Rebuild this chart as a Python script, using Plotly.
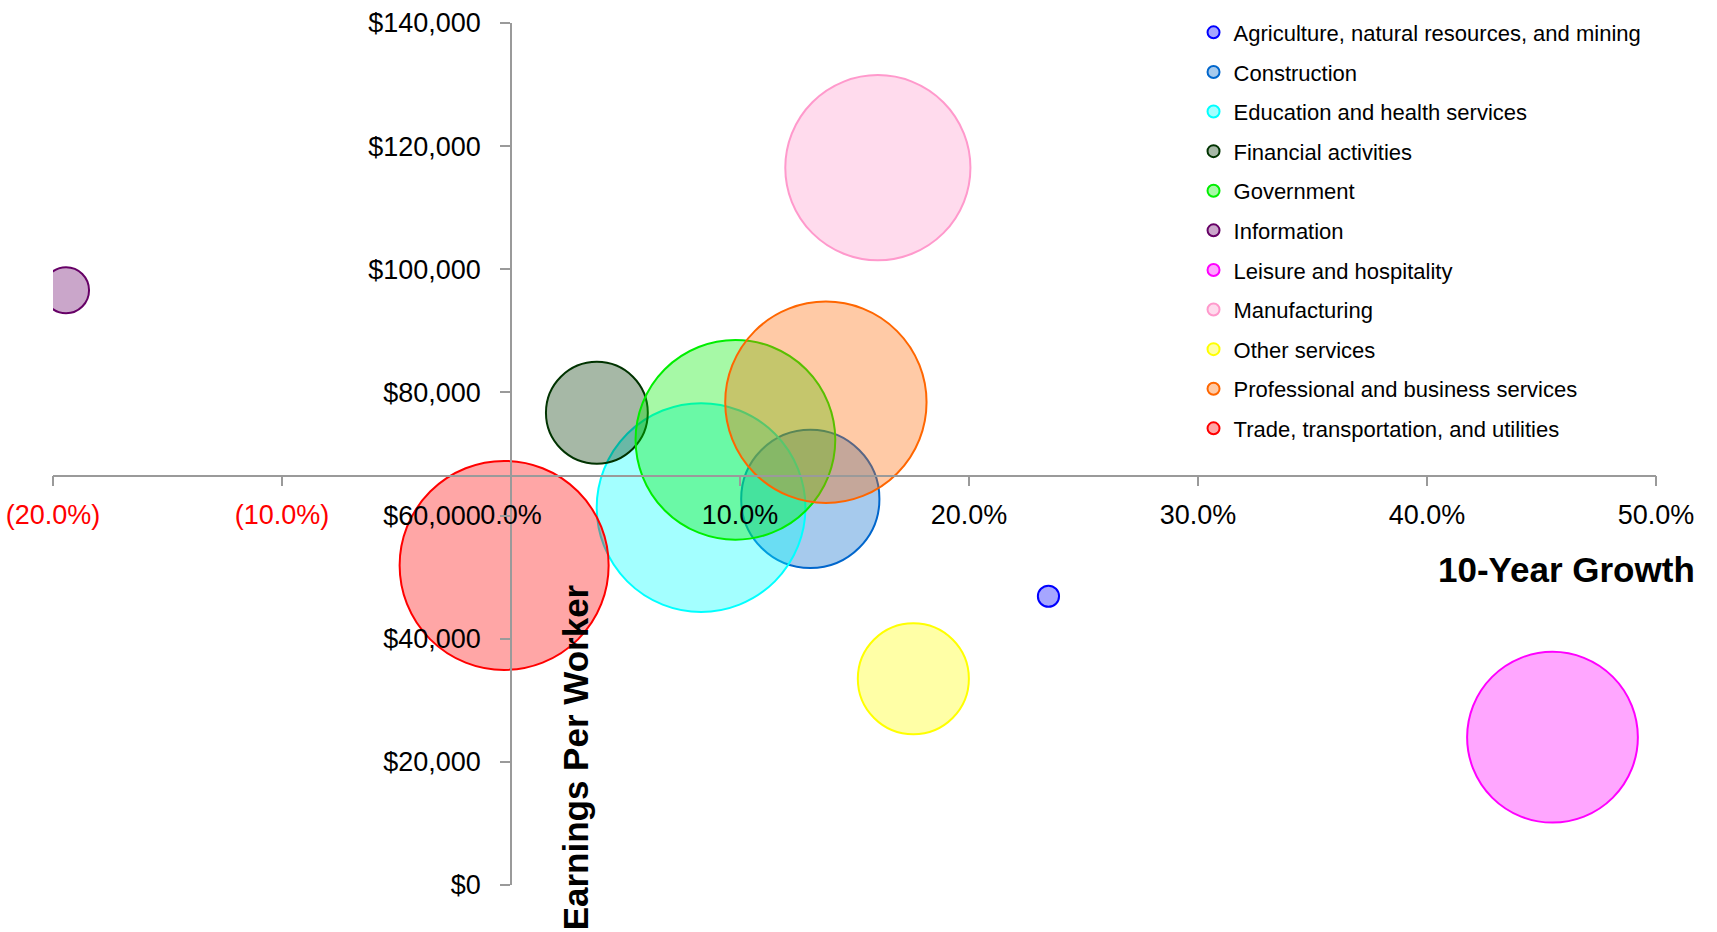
import plotly.graph_objects as go

# industry data
industries = [
    "Agriculture, natural resources, and mining",
    "Construction",
    "Education and health services",
    "Financial activities",
    "Government",
    "Information",
    "Leisure and hospitality",
    "Manufacturing",
    "Other services",
    "Professional and business services",
    "Trade, transportation, and utilities",
]
growth = [0.2347, 0.1307, 0.0830, 0.0375, 0.0980, -0.1943, 0.4548, 0.1602, 0.1757, 0.1375, -0.0030]
earnings = [46900, 62700, 61300, 76700, 72300, 96600, 24000, 116500, 33500, 78400, 51900]
employment = [4.5, 191.6, 436.8, 104.0, 400.0, 21.2, 292.4, 343.7, 123.7, 406.4, 438.0]

line_colors = ["#0000FF", "#0066CC", "#00FFFF", "#003300", "#00EE00", "#660066",
               "#FF00FF", "#FF99CC", "#FFFF00", "#FF6600", "#FF0000"]
fill_colors = ["rgba(0,0,255,0.35)", "rgba(0,102,204,0.35)", "rgba(0,255,255,0.36)",
               "rgba(0,51,0,0.35)", "rgba(0,238,0,0.35)", "rgba(102,0,102,0.35)",
               "rgba(255,0,255,0.35)", "rgba(255,153,204,0.35)", "rgba(255,255,0,0.35)",
               "rgba(255,102,0,0.35)", "rgba(255,0,0,0.35)"]

x_ticks = [-0.2, -0.1, 0.0, 0.1, 0.2, 0.3, 0.4, 0.5]
y_ticks = [0, 20000, 40000, 60000, 80000, 100000, 120000, 140000]
x_range = [-0.2, 0.5]
y_range = [0, 140000]
x_cross = 66500  # earnings level where the growth axis crosses

FONT = "Liberation Sans Narrow, Arial Narrow, Liberation Sans, Arial, sans-serif"


def pct_label(v):
    if v < 0:
        return "<span style='color:#FF0000'>(%.1f%%)</span>" % (abs(v) * 100)
    return "%.1f%%" % (v * 100)


max_diameter = 209
sizeref = 2.0 * max(employment) / (max_diameter ** 2)

fig = go.Figure()
for i, name in enumerate(industries):
    fig.add_trace(go.Scatter(
        x=[growth[i]], y=[earnings[i]], name=name, mode="markers", legendgroup=name,
        marker=dict(size=[employment[i]], sizemode="area", sizeref=sizeref, opacity=1,
                    color=fill_colors[i], line=dict(color=line_colors[i], width=2)),
        cliponaxis=True, hoverinfo="skip",
    ))

axis_gray = "#9a9a9a"
fig.update_layout(
    width=1717, height=932,
    margin=dict(l=53, r=61, t=23, b=47, autoexpand=False),
    plot_bgcolor="white", paper_bgcolor="white",
    font=dict(family=FONT, color="black"),
    showlegend=True,
    legend=dict(x=0.7115, y=1.0133, xanchor="left", yanchor="top", itemsizing="constant",
                tracegroupgap=8, font=dict(size=22, family=FONT), bgcolor="rgba(0,0,0,0)"),
    xaxis=dict(range=x_range, tickvals=x_ticks, ticktext=[pct_label(v) for v in x_ticks],
               showgrid=False, zeroline=False, showline=True, linecolor=axis_gray, linewidth=1.5,
               ticks="outside", ticklen=10, tickcolor=axis_gray, tickwidth=1.5,
               tickfont=dict(size=27, family=FONT), ticklabelstandoff=5,
               ticklabeloverflow="allow", automargin=False,
               anchor="free", position=(x_cross - y_range[0]) / (y_range[1] - y_range[0])),
    yaxis=dict(range=y_range, tickvals=y_ticks, ticktext=["${:,}".format(v) for v in y_ticks],
               showgrid=False, zeroline=False, showline=True, linecolor=axis_gray, linewidth=1.5,
               ticks="outside", ticklen=10, tickcolor=axis_gray, tickwidth=1.5,
               tickfont=dict(size=27, family=FONT), ticklabelstandoff=14,
               ticklabeloverflow="allow", automargin=False,
               anchor="free", position=(0 - x_range[0]) / (x_range[1] - x_range[0])),
    annotations=[
        dict(text="<b>10-Year Growth</b>", xref="paper", yref="paper", x=1.0258, y=0.3656,
             xanchor="right", yanchor="middle", showarrow=False,
             font=dict(size=35, family=FONT, color="black")),
        dict(text="<b>Earnings Per Worker</b>", xref="paper", yref="paper", x=0.3265, y=0.1485,
             xanchor="center", yanchor="middle", textangle=-90, showarrow=False,
             font=dict(size=35, family="Liberation Sans, Arial, sans-serif", color="black")),
    ],
)

fig.write_html("out.html", config={"displayModeBar": False},
               post_script="document.body.style.margin='0';document.body.style.overflow='hidden';")
